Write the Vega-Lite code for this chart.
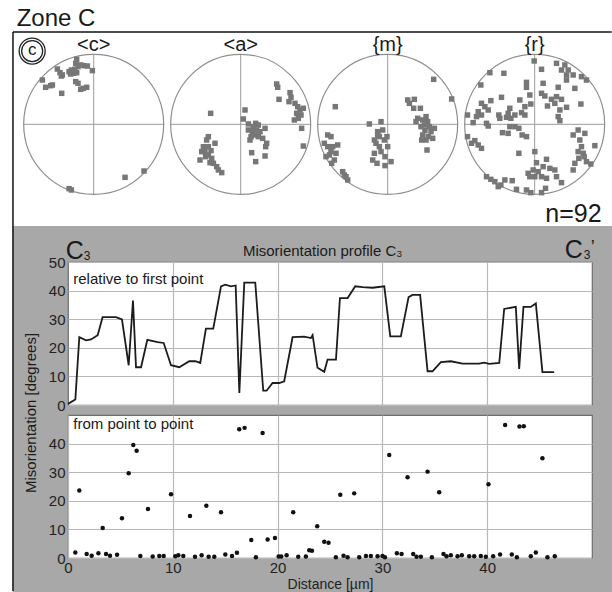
{
"$schema": "https://vega.github.io/schema/vega-lite/v6.json",
"padding": 0,
"background": "white",
"bounds": "flush",
"spacing": 10,
"config": {
 "font": "Liberation Sans",
 "view": {"stroke": "#6e6e6e", "strokeWidth": 1.2, "fill": "white"},
 "axis": {"labelColor": "#222", "titleColor": "#222", "gridColor": "#b8b8b8", "gridWidth": 1.2, "domain": false, "ticks": false, "labelFontSize": 15, "titleFontSize": 14, "titleFontWeight": "normal", "labelFlush": false, "labelOverlap": false},
 "text": {"color": "#1a1a1a"}
},
"datasets": {
 "prof": [{"d":0,"v":0.4},{"d":0.7,"v":1.9},{"d":1.08,"v":23.7},{"d":1.72,"v":22.6},{"d":2.2,"v":22.9},{"d":2.83,"v":24.4},{"d":3.3,"v":30.7},{"d":4.58,"v":30.7},{"d":5.15,"v":29.9},{"d":5.79,"v":13.9},{"d":6.2,"v":36.5},{"d":6.49,"v":13.2},{"d":6.97,"v":13.2},{"d":7.57,"v":22.8},{"d":8.55,"v":22.0},{"d":9.13,"v":21.7},{"d":9.83,"v":13.9},{"d":10.62,"v":13.2},{"d":11.57,"v":15.3},{"d":12.15,"v":15.3},{"d":12.62,"v":14.7},{"d":13.16,"v":26.7},{"d":13.86,"v":26.7},{"d":14.6,"v":41.5},{"d":15.0,"v":42.1},{"d":15.55,"v":41.5},{"d":16.0,"v":41.8},{"d":16.35,"v":4.2},{"d":16.82,"v":42.8},{"d":17.87,"v":42.8},{"d":18.63,"v":5.0},{"d":18.95,"v":5.0},{"d":19.52,"v":7.7},{"d":20.16,"v":7.7},{"d":20.63,"v":8.3},{"d":21.43,"v":23.7},{"d":22.54,"v":23.9},{"d":23.18,"v":23.4},{"d":23.34,"v":24.4},{"d":23.81,"v":13.0},{"d":24.45,"v":11.6},{"d":24.77,"v":15.9},{"d":25.57,"v":15.9},{"d":25.95,"v":37.4},{"d":26.68,"v":37.4},{"d":27.41,"v":41.5},{"d":28.11,"v":41.2},{"d":29.06,"v":41.0},{"d":30.18,"v":41.5},{"d":30.75,"v":24.0},{"d":31.76,"v":24.0},{"d":32.5,"v":37.7},{"d":32.87,"v":38.5},{"d":33.6,"v":38.5},{"d":34.31,"v":11.8},{"d":34.78,"v":11.8},{"d":35.58,"v":15.0},{"d":36.53,"v":15.3},{"d":37.65,"v":14.5},{"d":39.23,"v":14.5},{"d":39.71,"v":14.8},{"d":40.19,"v":14.4},{"d":41.15,"v":14.7},{"d":41.62,"v":33.6},{"d":42.73,"v":34.3},{"d":43.05,"v":12.6},{"d":43.46,"v":34.3},{"d":44.16,"v":34.3},{"d":44.64,"v":35.5},{"d":45.27,"v":11.5},{"d":46.39,"v":11.5}],
 "scat": [{"d":0.7,"v":1.9},{"d":1.08,"v":23.6},{"d":1.78,"v":1.4},{"d":2.26,"v":0.8},{"d":2.9,"v":1.65},{"d":3.31,"v":10.5},{"d":3.63,"v":1.4},{"d":4.01,"v":0.8},{"d":4.68,"v":1.1},{"d":5.15,"v":13.9},{"d":5.79,"v":29.6},{"d":6.23,"v":39.5},{"d":6.55,"v":37.5},{"d":6.9,"v":0.7},{"d":7.63,"v":17.1},{"d":8.08,"v":0.5},{"d":8.71,"v":0.7},{"d":9.13,"v":0.7},{"d":9.83,"v":22.3},{"d":10.24,"v":0.6},{"d":10.53,"v":0.95},{"d":11.0,"v":0.7},{"d":11.64,"v":14.7},{"d":12.12,"v":0.4},{"d":12.75,"v":0.95},{"d":13.2,"v":18.3},{"d":13.42,"v":0.4},{"d":13.96,"v":0.4},{"d":14.6,"v":16.0},{"d":15.01,"v":1.2},{"d":15.65,"v":0.7},{"d":16.12,"v":1.8},{"d":16.34,"v":45.0},{"d":16.85,"v":45.5},{"d":17.49,"v":6.3},{"d":17.93,"v":0.3},{"d":18.57,"v":43.7},{"d":19.05,"v":6.5},{"d":19.75,"v":7.0},{"d":20.1,"v":0.5},{"d":20.35,"v":0.5},{"d":20.86,"v":0.95},{"d":21.49,"v":16.0},{"d":21.97,"v":0.4},{"d":22.7,"v":0.5},{"d":23.02,"v":2.7},{"d":23.28,"v":2.5},{"d":23.78,"v":11.1},{"d":24.45,"v":5.7},{"d":24.86,"v":5.3},{"d":25.56,"v":0.3},{"d":25.98,"v":22.1},{"d":26.29,"v":0.8},{"d":26.68,"v":0.3},{"d":27.31,"v":22.6},{"d":27.79,"v":0.3},{"d":28.43,"v":0.7},{"d":28.9,"v":0.7},{"d":29.54,"v":0.6},{"d":30.01,"v":0.7},{"d":30.24,"v":0.3},{"d":30.65,"v":36.0},{"d":31.38,"v":1.65},{"d":31.83,"v":1.4},{"d":32.4,"v":28.2},{"d":32.94,"v":1.4},{"d":33.26,"v":0.4},{"d":33.67,"v":0.4},{"d":34.31,"v":30.2},{"d":34.72,"v":0.3},{"d":35.42,"v":23.0},{"d":35.83,"v":1.4},{"d":36.12,"v":0.6},{"d":36.53,"v":0.95},{"d":37.17,"v":0.6},{"d":37.58,"v":0.95},{"d":38.28,"v":0.6},{"d":38.76,"v":0.6},{"d":39.39,"v":0.7},{"d":39.87,"v":0.4},{"d":40.12,"v":25.8},{"d":40.57,"v":0.6},{"d":41.23,"v":1.2},{"d":41.71,"v":46.5},{"d":42.35,"v":1.2},{"d":42.83,"v":0.3},{"d":43.08,"v":46.0},{"d":43.49,"v":46.1},{"d":44.16,"v":0.6},{"d":44.64,"v":1.9},{"d":45.27,"v":34.9},{"d":45.75,"v":0.3},{"d":46.45,"v":0.6}],
 "circ": [{"x":0,"y":0,"lab":"<c>"},{"x":2.1,"y":0,"lab":"<a>"},{"x":4.2,"y":0,"lab":"{m}"},{"x":6.3,"y":0,"lab":"{r}"}],
 "cross": [{"x":-1,"x2":1,"y":0,"y2":0},{"x":0,"x2":0,"y":-1,"y2":1},{"x":1.1,"x2":3.1,"y":0,"y2":0},{"x":2.1,"x2":2.1,"y":-1,"y2":1},{"x":3.2,"x2":5.2,"y":0,"y2":0},{"x":4.2,"x2":4.2,"y":-1,"y2":1},{"x":5.3,"x2":7.3,"y":0,"y2":0},{"x":6.3,"x2":6.3,"y":-1,"y2":1}],
 "pts": [
{"f":"c","x":-0.243,"y":0.929},{"f":"c","x":-0.257,"y":0.871},{"f":"c","x":-0.224,"y":0.824},{"f":"c","x":-0.186,"y":0.848},{"f":"c","x":-0.138,"y":0.838},{"f":"c","x":-0.090,"y":0.833},{"f":"c","x":-0.019,"y":0.767},{"f":"c","x":-0.305,"y":0.752},{"f":"c","x":-0.329,"y":0.719},{"f":"c","x":-0.281,"y":0.729},{"f":"c","x":-0.243,"y":0.738},{"f":"c","x":-0.319,"y":0.776},{"f":"c","x":-0.352,"y":0.752},{"f":"c","x":-0.271,"y":0.786},{"f":"c","x":-0.448,"y":0.705},{"f":"c","x":-0.519,"y":0.790},{"f":"c","x":-0.481,"y":0.738},{"f":"c","x":-0.462,"y":0.690},{"f":"c","x":-0.733,"y":0.633},{"f":"c","x":-0.686,"y":0.529},{"f":"c","x":-0.614,"y":0.552},{"f":"c","x":-0.590,"y":0.562},{"f":"c","x":-0.457,"y":0.443},{"f":"c","x":-0.257,"y":0.610},{"f":"c","x":-0.224,"y":0.586},{"f":"c","x":-0.186,"y":0.500},{"f":"c","x":-0.148,"y":0.514},{"f":"c","x":-0.100,"y":0.529},{"f":"c","x":-0.352,"y":-0.919},{"f":"c","x":-0.319,"y":-0.938},{"f":"c","x":0.448,"y":-0.757},{"f":"c","x":0.719,"y":-0.667},
{"f":"a","x":2.614,"y":0.576},{"f":"a","x":2.629,"y":0.529},{"f":"a","x":2.648,"y":0.357},{"f":"a","x":2.805,"y":0.452},{"f":"a","x":2.819,"y":0.386},{"f":"a","x":2.790,"y":0.324},{"f":"a","x":2.876,"y":0.300},{"f":"a","x":2.914,"y":0.252},{"f":"a","x":2.948,"y":0.205},{"f":"a","x":2.900,"y":0.157},{"f":"a","x":2.962,"y":0.133},{"f":"a","x":2.867,"y":0.062},{"f":"a","x":2.924,"y":0.086},{"f":"a","x":2.995,"y":0.229},{"f":"a","x":2.971,"y":-0.057},{"f":"a","x":2.995,"y":-0.310},{"f":"a","x":1.671,"y":0.157},{"f":"a","x":2.162,"y":0.205},{"f":"a","x":2.138,"y":0.076},{"f":"a","x":2.210,"y":0.005},{"f":"a","x":2.281,"y":-0.033},{"f":"a","x":2.314,"y":0.014},{"f":"a","x":2.352,"y":-0.010},{"f":"a","x":2.448,"y":-0.057},{"f":"a","x":2.267,"y":-0.105},{"f":"a","x":2.305,"y":-0.152},{"f":"a","x":2.248,"y":-0.176},{"f":"a","x":2.352,"y":-0.176},{"f":"a","x":2.414,"y":-0.200},{"f":"a","x":2.471,"y":-0.271},{"f":"a","x":2.457,"y":-0.319},{"f":"a","x":2.257,"y":-0.405},{"f":"a","x":2.314,"y":-0.533},{"f":"a","x":2.448,"y":-0.452},{"f":"a","x":2.233,"y":-0.224},{"f":"a","x":2.376,"y":-0.105},{"f":"a","x":2.329,"y":-0.081},{"f":"a","x":2.210,"y":-0.081},{"f":"a","x":1.638,"y":-0.176},{"f":"a","x":1.614,"y":-0.224},{"f":"a","x":1.567,"y":-0.319},{"f":"a","x":1.543,"y":-0.390},{"f":"a","x":1.590,"y":-0.390},{"f":"a","x":1.519,"y":-0.510},{"f":"a","x":1.638,"y":-0.438},{"f":"a","x":1.686,"y":-0.486},{"f":"a","x":1.733,"y":-0.271},{"f":"a","x":1.638,"y":-0.319},{"f":"a","x":1.676,"y":-0.376},{"f":"a","x":1.710,"y":-0.557},{"f":"a","x":1.757,"y":-0.605},{"f":"a","x":1.829,"y":-0.690},{"f":"a","x":1.781,"y":-0.652},{"f":"a","x":1.600,"y":-0.462},{"f":"a","x":1.662,"y":-0.548},
{"f":"m","x":4.857,"y":0.643},{"f":"m","x":5.114,"y":0.362},{"f":"m","x":3.452,"y":0.252},{"f":"m","x":4.486,"y":0.348},{"f":"m","x":4.581,"y":0.357},{"f":"m","x":4.571,"y":0.229},{"f":"m","x":4.667,"y":0.229},{"f":"m","x":4.510,"y":0.300},{"f":"m","x":4.629,"y":0.086},{"f":"m","x":4.700,"y":0.062},{"f":"m","x":4.748,"y":0.110},{"f":"m","x":4.771,"y":0.038},{"f":"m","x":4.724,"y":-0.010},{"f":"m","x":4.676,"y":-0.033},{"f":"m","x":4.795,"y":-0.033},{"f":"m","x":4.733,"y":-0.090},{"f":"m","x":4.819,"y":-0.105},{"f":"m","x":4.700,"y":-0.152},{"f":"m","x":4.781,"y":-0.176},{"f":"m","x":4.843,"y":-0.200},{"f":"m","x":4.748,"y":-0.224},{"f":"m","x":4.686,"y":-0.224},{"f":"m","x":4.867,"y":-0.057},{"f":"m","x":4.762,"y":-0.367},{"f":"m","x":4.605,"y":0.038},{"f":"m","x":3.938,"y":0.005},{"f":"m","x":4.105,"y":0.038},{"f":"m","x":4.057,"y":-0.105},{"f":"m","x":4.081,"y":-0.176},{"f":"m","x":4.010,"y":-0.224},{"f":"m","x":4.033,"y":-0.271},{"f":"m","x":4.081,"y":-0.319},{"f":"m","x":4.152,"y":-0.224},{"f":"m","x":4.190,"y":-0.176},{"f":"m","x":4.105,"y":-0.390},{"f":"m","x":4.010,"y":-0.414},{"f":"m","x":3.986,"y":-0.510},{"f":"m","x":4.048,"y":-0.557},{"f":"m","x":4.162,"y":-0.462},{"f":"m","x":4.200,"y":-0.319},{"f":"m","x":4.248,"y":-0.533},{"f":"m","x":4.162,"y":-0.590},{"f":"m","x":4.129,"y":-0.081},{"f":"m","x":4.057,"y":-0.152},{"f":"m","x":3.343,"y":-0.152},{"f":"m","x":3.390,"y":-0.176},{"f":"m","x":3.295,"y":-0.271},{"f":"m","x":3.343,"y":-0.319},{"f":"m","x":3.414,"y":-0.319},{"f":"m","x":3.486,"y":-0.295},{"f":"m","x":3.390,"y":-0.390},{"f":"m","x":3.462,"y":-0.414},{"f":"m","x":3.367,"y":-0.438},{"f":"m","x":3.438,"y":-0.510},{"f":"m","x":3.400,"y":-0.557},{"f":"m","x":3.319,"y":-0.462},{"f":"m","x":3.557,"y":-0.676},{"f":"m","x":3.581,"y":-0.724},{"f":"m","x":3.629,"y":-0.795},{"f":"m","x":3.605,"y":-0.748},
{"f":"r","x":6.293,"y":0.905},{"f":"r","x":6.612,"y":0.871},{"f":"r","x":6.731,"y":0.848},{"f":"r","x":6.398,"y":0.786},{"f":"r","x":6.683,"y":0.776},{"f":"r","x":6.779,"y":0.776},{"f":"r","x":6.755,"y":0.705},{"f":"r","x":6.850,"y":0.705},{"f":"r","x":6.755,"y":0.633},{"f":"r","x":6.969,"y":0.681},{"f":"r","x":7.040,"y":0.633},{"f":"r","x":5.860,"y":0.729},{"f":"r","x":5.660,"y":0.738},{"f":"r","x":6.183,"y":0.600},{"f":"r","x":6.421,"y":0.586},{"f":"r","x":5.531,"y":0.562},{"f":"r","x":6.183,"y":0.529},{"f":"r","x":6.231,"y":0.419},{"f":"r","x":6.398,"y":0.443},{"f":"r","x":6.445,"y":0.405},{"f":"r","x":6.636,"y":0.529},{"f":"r","x":6.612,"y":0.395},{"f":"r","x":6.540,"y":0.357},{"f":"r","x":6.683,"y":0.357},{"f":"r","x":6.588,"y":0.300},{"f":"r","x":6.755,"y":0.243},{"f":"r","x":6.660,"y":0.205},{"f":"r","x":6.483,"y":0.262},{"f":"r","x":6.960,"y":0.290},{"f":"r","x":6.874,"y":0.514},{"f":"r","x":5.674,"y":0.338},{"f":"r","x":5.540,"y":0.300},{"f":"r","x":5.588,"y":0.252},{"f":"r","x":5.493,"y":0.181},{"f":"r","x":5.540,"y":0.133},{"f":"r","x":5.636,"y":0.205},{"f":"r","x":5.469,"y":0.110},{"f":"r","x":5.421,"y":0.024},{"f":"r","x":5.340,"y":0.133},{"f":"r","x":5.612,"y":0.014},{"f":"r","x":5.636,"y":-0.024},{"f":"r","x":5.826,"y":0.386},{"f":"r","x":5.945,"y":0.229},{"f":"r","x":5.921,"y":0.157},{"f":"r","x":6.017,"y":0.133},{"f":"r","x":6.088,"y":0.348},{"f":"r","x":6.160,"y":0.252},{"f":"r","x":6.112,"y":0.167},{"f":"r","x":5.960,"y":0.086},{"f":"r","x":5.898,"y":0.100},{"f":"r","x":5.788,"y":0.133},{"f":"r","x":5.802,"y":0.086},{"f":"r","x":6.160,"y":0.133},{"f":"r","x":6.245,"y":0.290},{"f":"r","x":6.636,"y":0.110},{"f":"r","x":6.660,"y":0.052},{"f":"r","x":6.921,"y":-0.081},{"f":"r","x":7.017,"y":-0.129},{"f":"r","x":6.850,"y":-0.152},{"f":"r","x":6.017,"y":-0.033},{"f":"r","x":5.945,"y":-0.033},{"f":"r","x":5.840,"y":-0.119},{"f":"r","x":5.921,"y":-0.129},{"f":"r","x":6.074,"y":-0.057},{"f":"r","x":6.121,"y":-0.152},{"f":"r","x":6.183,"y":-0.176},{"f":"r","x":6.302,"y":-0.390},{"f":"r","x":5.340,"y":-0.176},{"f":"r","x":5.398,"y":-0.271},{"f":"r","x":5.493,"y":-0.295},{"f":"r","x":5.540,"y":-0.343},{"f":"r","x":5.445,"y":-0.233},{"f":"r","x":6.945,"y":-0.224},{"f":"r","x":6.969,"y":-0.319},{"f":"r","x":6.921,"y":-0.390},{"f":"r","x":6.993,"y":-0.414},{"f":"r","x":6.931,"y":-0.486},{"f":"r","x":7.007,"y":-0.462},{"f":"r","x":7.040,"y":-0.533},{"f":"r","x":6.874,"y":-0.557},{"f":"r","x":7.102,"y":-0.567},{"f":"r","x":7.160,"y":-0.305},{"f":"r","x":6.850,"y":-0.652},{"f":"r","x":6.074,"y":-0.414},{"f":"r","x":6.326,"y":-0.548},{"f":"r","x":6.469,"y":-0.500},{"f":"r","x":6.421,"y":-0.605},{"f":"r","x":6.517,"y":-0.629},{"f":"r","x":6.350,"y":-0.676},{"f":"r","x":6.279,"y":-0.652},{"f":"r","x":6.207,"y":-0.700},{"f":"r","x":6.231,"y":-0.748},{"f":"r","x":6.302,"y":-0.748},{"f":"r","x":6.398,"y":-0.748},{"f":"r","x":6.469,"y":-0.771},{"f":"r","x":6.588,"y":-0.652},{"f":"r","x":6.612,"y":-0.748},{"f":"r","x":6.683,"y":-0.833},{"f":"r","x":5.612,"y":-0.748},{"f":"r","x":5.674,"y":-0.786},{"f":"r","x":5.731,"y":-0.819},{"f":"r","x":5.779,"y":-0.890},{"f":"r","x":5.817,"y":-0.867},{"f":"r","x":5.874,"y":-0.795},{"f":"r","x":5.979,"y":-0.805},{"f":"r","x":6.040,"y":-0.929},{"f":"r","x":6.183,"y":-0.938},{"f":"r","x":6.245,"y":-0.976},{"f":"r","x":6.398,"y":-0.976},{"f":"r","x":6.455,"y":-0.914}
 ]
},
"vconcat": [
 {
  "width": 524, "height": 220,
  "view": {"stroke": null, "fill": null},
  "layer": [
   {"data": {"values": [{}]}, "mark": {"type": "rect", "fill": "white"},
    "encoding": {"x": {"datum": -1.329, "type": "quantitative", "scale": {"domain": [-0.367, 7.119], "nice": false, "zero": false}, "axis": null}, "x2": {"datum": 7.414},
                 "y": {"datum": 1.776, "type": "quantitative", "scale": {"domain": [-1.824, 1.319], "nice": false, "zero": false}, "axis": null}, "y2": {"datum": -1.453}}},
   {"data": {"values": [{}]}, "mark": {"type": "rect", "fill": "#a8a8a8"},
    "encoding": {"x": {"datum": -1.157, "type": "quantitative", "scale": {"domain": [-0.367, 7.119], "nice": false, "zero": false}, "axis": null}, "x2": {"datum": 7.414},
                 "y": {"datum": -1.453, "type": "quantitative", "scale": {"domain": [-1.824, 1.319], "nice": false, "zero": false}, "axis": null}, "y2": {"datum": -6.681}}},
   {"data": {"values": [{}]}, "mark": {"type": "rule", "color": "#111", "strokeWidth": 1.5},
    "encoding": {"x": {"datum": -1.153, "type": "quantitative", "scale": {"domain": [-0.367, 7.119], "nice": false, "zero": false}, "axis": null},
                 "y": {"datum": 1.319, "type": "quantitative", "scale": {"domain": [-1.824, 1.319], "nice": false, "zero": false}, "axis": null}, "y2": {"datum": -6.667}}},
   {"data": {"values": [{}]}, "mark": {"type": "rule", "color": "#111", "strokeWidth": 1.5},
    "encoding": {"x": {"datum": -1.153, "type": "quantitative", "scale": {"domain": [-0.367, 7.119], "nice": false, "zero": false}, "axis": null}, "x2": {"datum": 7.4},
                 "y": {"datum": 1.319, "type": "quantitative", "scale": {"domain": [-1.824, 1.319], "nice": false, "zero": false}, "axis": null}}},
   {"data": {"name": "cross"}, "mark": {"type": "rule", "color": "#9c9c9c", "strokeWidth": 1},
    "encoding": {"x": {"field": "x", "type": "quantitative", "scale": {"domain": [-0.367, 7.119], "nice": false, "zero": false}, "axis": null}, "x2": {"field": "x2"},
                 "y": {"field": "y", "type": "quantitative", "scale": {"domain": [-1.824, 1.319], "nice": false, "zero": false}, "axis": null}, "y2": {"field": "y2"}}},
   {"data": {"name": "circ"}, "mark": {"type": "point", "shape": "circle", "filled": false, "size": 19600, "stroke": "#8e8e8e", "strokeWidth": 1.2, "opacity": 1},
    "encoding": {"x": {"field": "x", "type": "quantitative", "scale": {"domain": [-0.367, 7.119], "nice": false, "zero": false}, "axis": null},
                 "y": {"field": "y", "type": "quantitative", "scale": {"domain": [-1.824, 1.319], "nice": false, "zero": false}, "axis": null}}},
   {"data": {"name": "pts"}, "mark": {"type": "point", "shape": "square", "filled": true, "size": 30, "color": "#777777", "opacity": 1},
    "encoding": {"x": {"field": "x", "type": "quantitative", "scale": {"domain": [-0.367, 7.119], "nice": false, "zero": false}, "axis": null},
                 "y": {"field": "y", "type": "quantitative", "scale": {"domain": [-1.824, 1.319], "nice": false, "zero": false}, "axis": null}}},
   {"data": {"name": "circ"}, "mark": {"type": "text", "fontSize": 20, "align": "center", "baseline": "alphabetic"},
    "encoding": {"x": {"field": "x", "type": "quantitative", "scale": {"domain": [-0.367, 7.119], "nice": false, "zero": false}, "axis": null},
                 "y": {"datum": 1.054, "type": "quantitative", "scale": {"domain": [-1.824, 1.319], "nice": false, "zero": false}, "axis": null},
                 "text": {"field": "lab"}}},
   {"data": {"values": [{}]}, "mark": {"type": "text", "text": "Zone C", "fontSize": 24, "align": "left", "baseline": "alphabetic"},
    "encoding": {"x": {"datum": -1.1, "type": "quantitative", "scale": {"domain": [-0.367, 7.119], "nice": false, "zero": false}, "axis": null},
                 "y": {"datum": 1.404, "type": "quantitative", "scale": {"domain": [-1.824, 1.319], "nice": false, "zero": false}, "axis": null}}},
   {"data": {"values": [{}]}, "mark": {"type": "text", "text": "n=92", "fontSize": 25, "align": "right", "baseline": "alphabetic"},
    "encoding": {"x": {"datum": 7.257, "type": "quantitative", "scale": {"domain": [-0.367, 7.119], "nice": false, "zero": false}, "axis": null},
                 "y": {"datum": -1.396, "type": "quantitative", "scale": {"domain": [-1.824, 1.319], "nice": false, "zero": false}, "axis": null}}},
   {"data": {"values": [{}]}, "mark": {"type": "point", "shape": "circle", "filled": false, "size": 676, "stroke": "#222", "strokeWidth": 1.3, "opacity": 1},
    "encoding": {"x": {"datum": -0.879, "type": "quantitative", "scale": {"domain": [-0.367, 7.119], "nice": false, "zero": false}, "axis": null},
                 "y": {"datum": 1.047, "type": "quantitative", "scale": {"domain": [-1.824, 1.319], "nice": false, "zero": false}, "axis": null}}},
   {"data": {"values": [{}]}, "mark": {"type": "point", "shape": "circle", "filled": false, "size": 441, "stroke": "#222", "strokeWidth": 1.3, "opacity": 1},
    "encoding": {"x": {"datum": -0.879, "type": "quantitative", "scale": {"domain": [-0.367, 7.119], "nice": false, "zero": false}, "axis": null},
                 "y": {"datum": 1.047, "type": "quantitative", "scale": {"domain": [-1.824, 1.319], "nice": false, "zero": false}, "axis": null}}},
   {"data": {"values": [{}]}, "mark": {"type": "text", "text": "c", "fontSize": 17, "align": "center", "baseline": "middle"},
    "encoding": {"x": {"datum": -0.879, "type": "quantitative", "scale": {"domain": [-0.367, 7.119], "nice": false, "zero": false}, "axis": null},
                 "y": {"datum": 1.057, "type": "quantitative", "scale": {"domain": [-1.824, 1.319], "nice": false, "zero": false}, "axis": null}}},
   {"data": {"values": [{}]}, "mark": {"type": "text", "text": "C", "fontSize": 25, "align": "left", "baseline": "alphabetic"},
    "encoding": {"x": {"datum": -0.4, "type": "quantitative", "scale": {"domain": [-0.367, 7.119], "nice": false, "zero": false}, "axis": null},
                 "y": {"datum": -1.925, "type": "quantitative", "scale": {"domain": [-1.824, 1.319], "nice": false, "zero": false}, "axis": null}}},
   {"data": {"values": [{}]}, "mark": {"type": "text", "text": "3", "fontSize": 12, "align": "left", "baseline": "alphabetic"},
    "encoding": {"x": {"datum": -0.143, "type": "quantitative", "scale": {"domain": [-0.367, 7.119], "nice": false, "zero": false}, "axis": null},
                 "y": {"datum": -1.945, "type": "quantitative", "scale": {"domain": [-1.824, 1.319], "nice": false, "zero": false}, "axis": null}}},
   {"data": {"values": [{}]}, "mark": {"type": "text", "text": "C", "fontSize": 25, "align": "left", "baseline": "alphabetic"},
    "encoding": {"x": {"datum": 6.729, "type": "quantitative", "scale": {"domain": [-0.367, 7.119], "nice": false, "zero": false}, "axis": null},
                 "y": {"datum": -1.91, "type": "quantitative", "scale": {"domain": [-1.824, 1.319], "nice": false, "zero": false}, "axis": null}}},
   {"data": {"values": [{}]}, "mark": {"type": "text", "text": "3", "fontSize": 12, "align": "left", "baseline": "alphabetic"},
    "encoding": {"x": {"datum": 7.0, "type": "quantitative", "scale": {"domain": [-0.367, 7.119], "nice": false, "zero": false}, "axis": null},
                 "y": {"datum": -1.924, "type": "quantitative", "scale": {"domain": [-1.824, 1.319], "nice": false, "zero": false}, "axis": null}}},
   {"data": {"values": [{}]}, "mark": {"type": "text", "text": "’", "fontSize": 18, "align": "left", "baseline": "alphabetic"},
    "encoding": {"x": {"datum": 7.1, "type": "quantitative", "scale": {"domain": [-0.367, 7.119], "nice": false, "zero": false}, "axis": null},
                 "y": {"datum": -1.839, "type": "quantitative", "scale": {"domain": [-1.824, 1.319], "nice": false, "zero": false}, "axis": null}}},
   {"data": {"values": [{}]}, "mark": {"type": "text", "text": "Misorientation profile C₃", "fontSize": 15, "align": "center", "baseline": "alphabetic"},
    "encoding": {"x": {"datum": 3.271, "type": "quantitative", "scale": {"domain": [-0.367, 7.119], "nice": false, "zero": false}, "axis": null},
                 "y": {"datum": -1.881, "type": "quantitative", "scale": {"domain": [-1.824, 1.319], "nice": false, "zero": false}, "axis": null}}},
   {"data": {"values": [{}]}, "mark": {"type": "text", "text": "Misorientation [degrees]", "fontSize": 15, "align": "center", "baseline": "middle", "angle": 270},
    "encoding": {"x": {"datum": -0.9, "type": "quantitative", "scale": {"domain": [-0.367, 7.119], "nice": false, "zero": false}, "axis": null},
                 "y": {"datum": -4.124, "type": "quantitative", "scale": {"domain": [-1.824, 1.319], "nice": false, "zero": false}, "axis": null}}}
  ]
 },
 {
  "width": 524, "height": 143,
  "layer": [
   {"data": {"name": "prof"}, "mark": {"type": "line", "color": "#1c1c1c", "strokeWidth": 1.8},
    "encoding": {"x": {"field": "d", "type": "quantitative", "scale": {"domain": [0, 50], "nice": false, "zero": false}, "axis": {"values": [10, 20, 30, 40], "tickCount": 20, "labels": false, "title": null, "grid": true}},
                 "y": {"field": "v", "type": "quantitative", "scale": {"domain": [0, 50], "nice": false, "zero": false}, "axis": {"values": [0, 10, 20, 30, 40, 50], "tickCount": 20, "title": null, "labelPadding": 3, "labelOverlap": false}}}},
   {"data": {"values": [{}]}, "mark": {"type": "text", "text": "relative to first point", "fontSize": 15, "align": "left", "baseline": "alphabetic"},
    "encoding": {"x": {"datum": 0.5, "type": "quantitative"}, "y": {"datum": 42.4, "type": "quantitative"}}}
  ]
 },
 {
  "width": 524, "height": 143,
  "layer": [
   {"data": {"name": "scat"}, "mark": {"type": "point", "shape": "circle", "filled": true, "size": 20, "color": "#111", "opacity": 1},
    "encoding": {"x": {"field": "d", "type": "quantitative", "scale": {"domain": [0, 50], "nice": false, "zero": false}, "axis": {"values": [0, 10, 20, 30, 40], "tickCount": 20, "title": "Distance [µm]", "labelPadding": 2, "titlePadding": 2, "grid": true, "labelOverlap": false}},
                 "y": {"field": "v", "type": "quantitative", "scale": {"domain": [0, 50], "nice": false, "zero": false}, "axis": {"values": [0, 10, 20, 30, 40], "tickCount": 20, "title": null, "labelPadding": 3, "labelOverlap": false}}}},
   {"data": {"values": [{}]}, "mark": {"type": "text", "text": "from point to point", "fontSize": 15, "align": "left", "baseline": "alphabetic"},
    "encoding": {"x": {"datum": 0.5, "type": "quantitative"}, "y": {"datum": 45.2, "type": "quantitative"}}}
  ]
 }
]
}
